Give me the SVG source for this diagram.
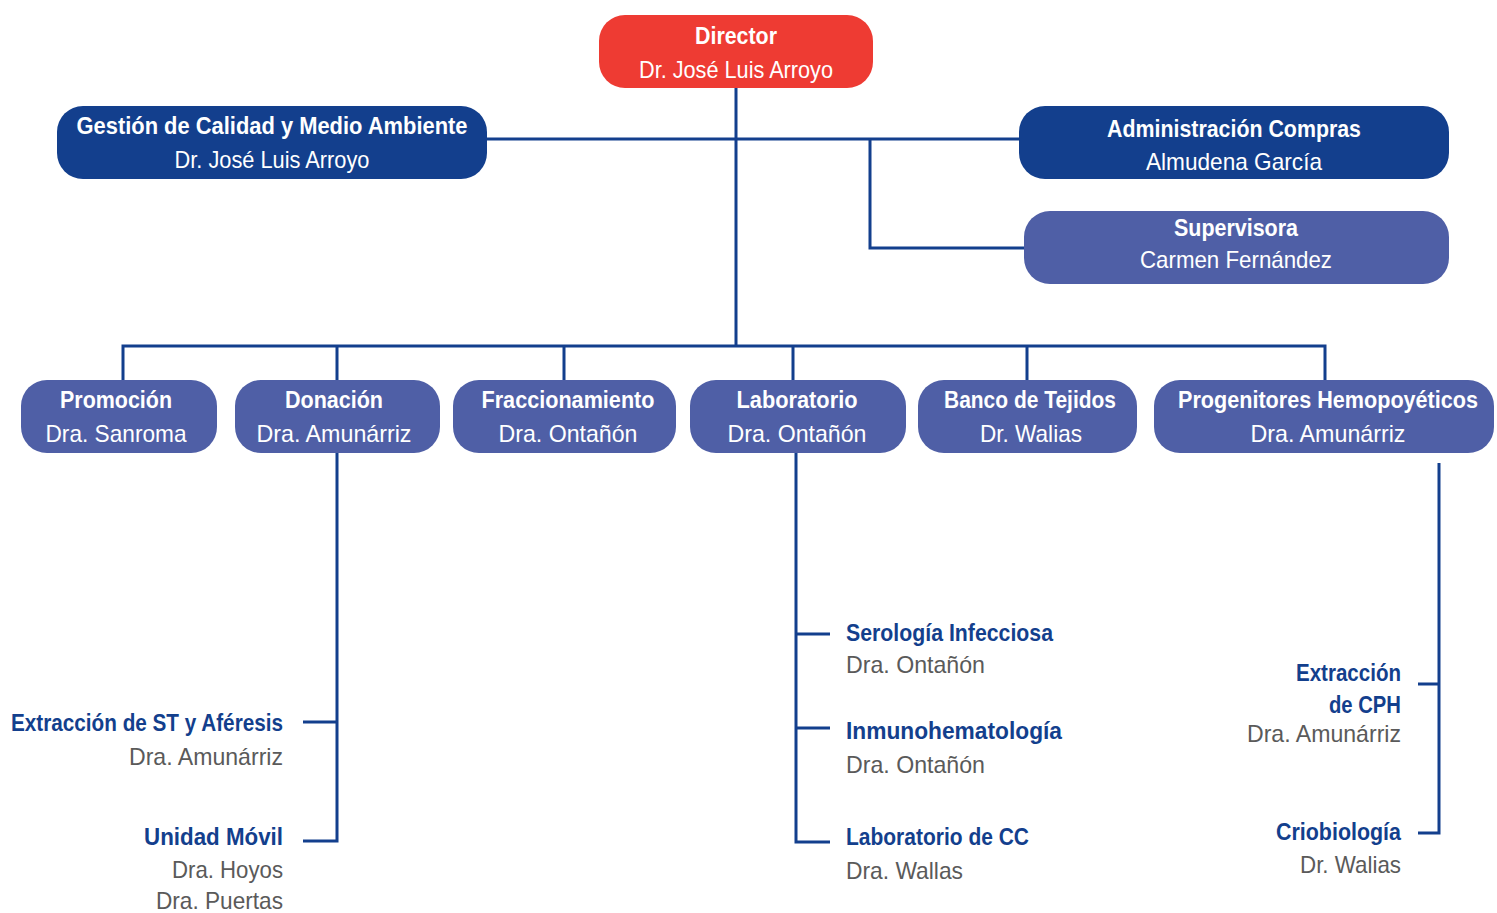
<svg xmlns="http://www.w3.org/2000/svg" width="1497" height="913" viewBox="0 0 1497 913">
<style>
.dark{fill:#133F8D}
.mid{fill:#4F5FA6}
.red{fill:#EE3B33}
text{font-family:"Liberation Sans",Arial,sans-serif;font-size:24px}
.t{fill:#fff;font-weight:bold;text-anchor:middle}
.n{fill:#fff;text-anchor:middle}
.lt{fill:#133F8D;font-weight:bold}
.ln{fill:#5a5a5a}
.r{text-anchor:end}
.c{fill:none;stroke:#133F8D;stroke-width:3}
</style>
<rect width="1497" height="913" fill="#fff"/>
<g id="connectors">
<path class="c" d="M736 88V346"/>
<path class="c" d="M487 139H1019" stroke-width="4"/>
<path class="c" d="M870 139V248H1024"/>
<path class="c" d="M123 380V346H1325V380M337 346V380M564 346V380M793 346V380M1027 346V380"/>
<path class="c" d="M337 453V841H303M337 722H303"/>
<path class="c" d="M796 453V842H830M796 634H830M796 728H830"/>
<path class="c" d="M1439 463V833H1418M1439 684H1418"/>
</g>
<g id="director">
<rect class="red" x="599" y="15" width="274" height="73" rx="26"/>
<text class="t" x="736" y="44" textLength="82" lengthAdjust="spacingAndGlyphs">Director</text>
<text class="n" x="736" y="78" textLength="194" lengthAdjust="spacingAndGlyphs">Dr. José Luis Arroyo</text>
</g>
<g id="gestion">
<rect class="dark" x="57" y="106" width="430" height="73" rx="26"/>
<text class="t" x="272" y="134" textLength="391" lengthAdjust="spacingAndGlyphs">Gestión de Calidad y Medio Ambiente</text>
<text class="n" x="272" y="168" textLength="195" lengthAdjust="spacingAndGlyphs">Dr. José Luis Arroyo</text>
</g>
<g id="administracion">
<rect class="dark" x="1019" y="106" width="430" height="73" rx="26"/>
<text class="t" x="1234" y="137" textLength="254" lengthAdjust="spacingAndGlyphs">Administración Compras</text>
<text class="n" x="1234" y="170" textLength="176" lengthAdjust="spacingAndGlyphs">Almudena García</text>
</g>
<g id="supervisora">
<rect class="mid" x="1024" y="211" width="425" height="73" rx="26"/>
<text class="t" x="1236" y="236" textLength="124" lengthAdjust="spacingAndGlyphs">Supervisora</text>
<text class="n" x="1236" y="268" textLength="192" lengthAdjust="spacingAndGlyphs">Carmen Fernández</text>
</g>
<g id="promocion">
<rect class="mid" x="21" y="380" width="196" height="73" rx="26"/>
<text class="t" x="116" y="408" textLength="112" lengthAdjust="spacingAndGlyphs">Promoción</text>
<text class="n" x="116" y="442" textLength="141" lengthAdjust="spacingAndGlyphs">Dra. Sanroma</text>
</g>
<g id="donacion">
<rect class="mid" x="235" y="380" width="205" height="73" rx="26"/>
<text class="t" x="334" y="408" textLength="98" lengthAdjust="spacingAndGlyphs">Donación</text>
<text class="n" x="334" y="442" textLength="155" lengthAdjust="spacingAndGlyphs">Dra. Amunárriz</text>
</g>
<g id="fraccionamiento">
<rect class="mid" x="453" y="380" width="223" height="73" rx="26"/>
<text class="t" x="568" y="408" textLength="173" lengthAdjust="spacingAndGlyphs">Fraccionamiento</text>
<text class="n" x="568" y="442" textLength="139" lengthAdjust="spacingAndGlyphs">Dra. Ontañón</text>
</g>
<g id="laboratorio">
<rect class="mid" x="690" y="380" width="216" height="73" rx="26"/>
<text class="t" x="797" y="408" textLength="121" lengthAdjust="spacingAndGlyphs">Laboratorio</text>
<text class="n" x="797" y="442" textLength="139" lengthAdjust="spacingAndGlyphs">Dra. Ontañón</text>
</g>
<g id="banco">
<rect class="mid" x="918" y="380" width="219" height="73" rx="26"/>
<text class="t" x="1030" y="408" textLength="172" lengthAdjust="spacingAndGlyphs">Banco de Tejidos</text>
<text class="n" x="1031" y="442" textLength="102" lengthAdjust="spacingAndGlyphs">Dr. Walias</text>
</g>
<g id="progenitores">
<rect class="mid" x="1154" y="380" width="340" height="73" rx="26"/>
<text class="t" x="1328" y="408" textLength="300" lengthAdjust="spacingAndGlyphs" style="font-size:23px">Progenitores Hemopoyéticos</text>
<text class="n" x="1328" y="442" textLength="155" lengthAdjust="spacingAndGlyphs">Dra. Amunárriz</text>
</g>
<g id="extraccion-st">
<text class="lt r" x="283" y="731" textLength="272" lengthAdjust="spacingAndGlyphs">Extracción de ST y Aféresis</text>
<text class="ln r" x="283" y="765" textLength="154" lengthAdjust="spacingAndGlyphs">Dra. Amunárriz</text>
</g>
<g id="unidad-movil">
<text class="lt r" x="283" y="845" textLength="139" lengthAdjust="spacingAndGlyphs">Unidad Móvil</text>
<text class="ln r" x="283" y="878" textLength="111" lengthAdjust="spacingAndGlyphs">Dra. Hoyos</text>
<text class="ln r" x="283" y="909" textLength="127" lengthAdjust="spacingAndGlyphs">Dra. Puertas</text>
</g>
<g id="serologia">
<text class="lt" x="846" y="641" textLength="207" lengthAdjust="spacingAndGlyphs">Serología Infecciosa</text>
<text class="ln" x="846" y="673" textLength="139" lengthAdjust="spacingAndGlyphs">Dra. Ontañón</text>
</g>
<g id="inmunohematologia">
<text class="lt" x="846" y="739" textLength="216" lengthAdjust="spacingAndGlyphs">Inmunohematología</text>
<text class="ln" x="846" y="773" textLength="139" lengthAdjust="spacingAndGlyphs">Dra. Ontañón</text>
</g>
<g id="laboratorio-cc">
<text class="lt" x="846" y="845" textLength="183" lengthAdjust="spacingAndGlyphs">Laboratorio de CC</text>
<text class="ln" x="846" y="879" textLength="117" lengthAdjust="spacingAndGlyphs">Dra. Wallas</text>
</g>
<g id="extraccion-cph">
<text class="lt r" x="1401" y="681" textLength="105" lengthAdjust="spacingAndGlyphs">Extracción</text>
<text class="lt r" x="1401" y="713" textLength="72" lengthAdjust="spacingAndGlyphs">de CPH</text>
<text class="ln r" x="1401" y="742" textLength="154" lengthAdjust="spacingAndGlyphs">Dra. Amunárriz</text>
</g>
<g id="criobiologia">
<text class="lt r" x="1401" y="840" textLength="125" lengthAdjust="spacingAndGlyphs">Criobiología</text>
<text class="ln r" x="1401" y="873" textLength="101" lengthAdjust="spacingAndGlyphs">Dr. Walias</text>
</g>
</svg>
